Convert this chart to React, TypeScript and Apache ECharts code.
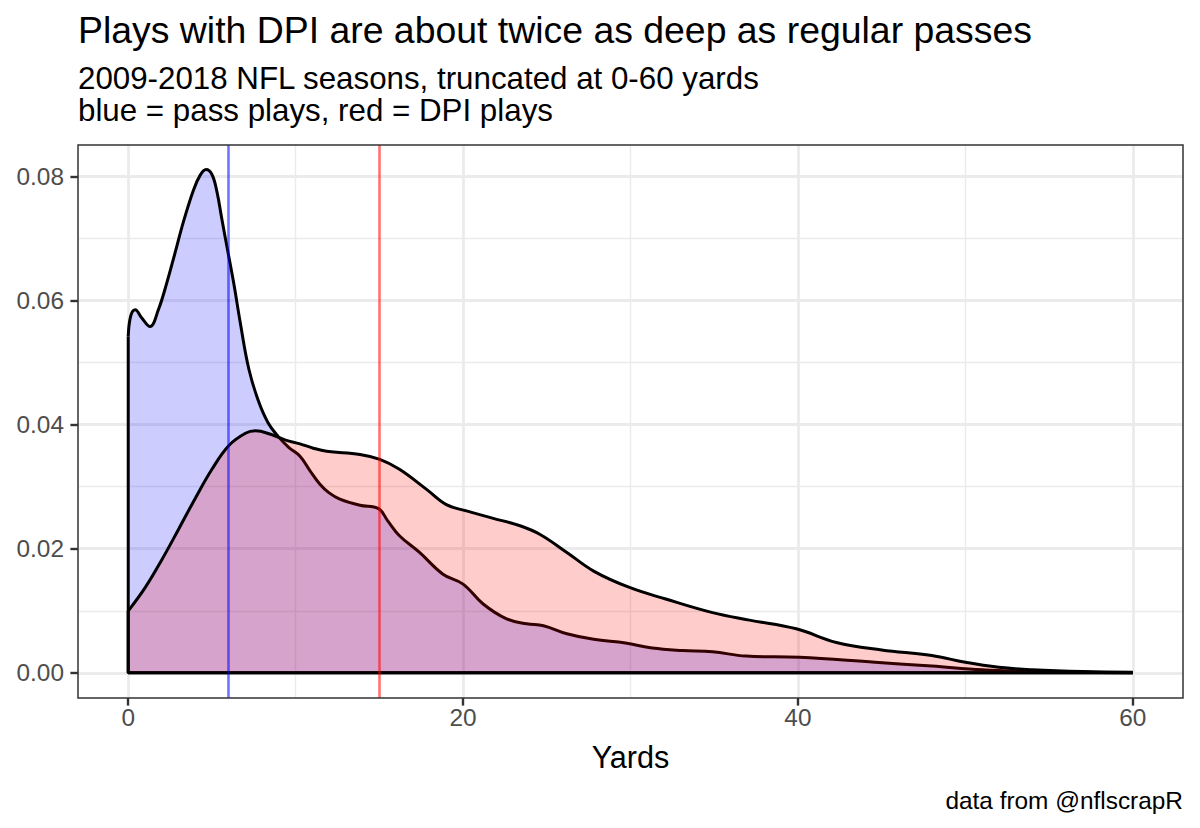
import React, { useEffect, useRef } from "react";
import * as echarts from "echarts";

// Density of air yards, pass plays (blue)
const passX = [0, 0.15, 0.42, 0.8, 1.3, 1.8, 2.3, 2.8, 3.3, 3.9, 4.3, 4.65, 5.0, 5.3, 5.6, 5.9, 6.3, 6.7, 7.2, 7.75, 8.35, 8.95, 9.6, 10.26, 10.85, 11.45, 12.0, 12.64, 13.84, 14.93, 15.5, 16.2, 17.4, 18.8, 20.0, 21.2, 22.6, 23.8, 24.8, 26.2, 27.8, 29.7, 31.3, 33.1, 34.9, 36.9, 40.1, 44.6, 48, 51, 54, 57, 60];
const passY = [0.0542, 0.0575, 0.0585, 0.0572, 0.0558, 0.0585, 0.0628, 0.0677, 0.0727, 0.0778, 0.0802, 0.0811, 0.0803, 0.0775, 0.073, 0.0686, 0.0628, 0.0563, 0.049, 0.044, 0.0403, 0.0381, 0.0363, 0.0349, 0.0326, 0.0304, 0.029, 0.028, 0.027, 0.0265, 0.0245, 0.0221, 0.0194, 0.0159, 0.0143, 0.0111, 0.0087, 0.0079, 0.0076, 0.0063, 0.0054, 0.0048, 0.004, 0.0036, 0.0034, 0.0027, 0.0025, 0.0017, 0.0011, 0.0005, 0.0002, 0.0001, 0.0];

// Density of air yards, DPI plays (red)
const dpiX = [0, 1, 2, 3, 4, 5, 6, 7, 7.6, 8.55, 9.4, 10.26, 11.05, 11.85, 13.84, 15.03, 16.2, 17.8, 19.0, 20.2, 21.8, 23.4, 24.6, 26.2, 27.8, 29.9, 32.1, 34.9, 37.1, 39.9, 42.3, 45, 48, 50, 52, 54, 57, 60];
const dpiY = [0.01, 0.0137, 0.0182, 0.0231, 0.0281, 0.0328, 0.0366, 0.0386, 0.039, 0.0384, 0.0375, 0.0369, 0.0362, 0.0357, 0.0352, 0.0344, 0.0328, 0.0296, 0.0271, 0.0261, 0.0249, 0.0237, 0.0223, 0.0194, 0.0164, 0.0138, 0.0119, 0.0097, 0.0085, 0.0071, 0.0049, 0.0037, 0.0028, 0.0017, 0.0009, 0.0005, 0.0002, 0.0001];

// Mean depth lines
const passMean = 6;
const dpiMean = 15;

// Axis ticks / grid
const xMajor = [0, 20, 40, 60];
const xMinor = [10, 30, 50];
const yMajor = [0, 0.02, 0.04, 0.06, 0.08];
const yMinor = [0.01, 0.03, 0.05, 0.07];

const titleText = "Plays with DPI are about twice as deep as regular passes";
const subtitle1 = "2009-2018 NFL seasons, truncated at 0-60 yards";
const subtitle2 = "blue = pass plays, red = DPI plays";
const captionText = "data from @nflscrapR";
const xTitle = "Yards";

const FONT = "'Liberation Sans', Arial, Helvetica, sans-serif";

export default function App() {
  const ref = useRef<HTMLDivElement>(null);

  useEffect(() => {
    if (!ref.current) return;
    const chart = echarts.init(ref.current, null, { renderer: "svg" });

    const passData = passX.map((x, i) => [x, passY[i]]);
    const dpiData = dpiX.map((x, i) => [x, dpiY[i]]);
    const passBase = [
      [passX[0], passY[0]],
      [passX[0], 0],
      [passX[passX.length - 1], 0],
    ];
    const dpiBase = [
      [dpiX[0], dpiY[0]],
      [dpiX[0], 0],
      [dpiX[dpiX.length - 1], 0],
    ];

    const gridLine = (arr: number[], key: string, width: number) =>
      arr.map((v) => ({ [key]: v, lineStyle: { color: "#ebebeb", width, type: "solid" } }));

    chart.setOption({
      animation: false,
      backgroundColor: "#ffffff",
      textStyle: { fontFamily: FONT },
      grid: {
        left: 78,
        top: 145,
        width: 1105,
        height: 553,
        show: true,
        borderColor: "#333333",
        borderWidth: 1.5,
        backgroundColor: "transparent",
        z: 20,
      },
      xAxis: {
        type: "value",
        min: -3,
        max: 63,
        axisLine: { show: false, onZero: false },
        splitLine: { show: false },
        axisTick: {
          show: true,
          customValues: xMajor,
          length: 7.6,
          lineStyle: { color: "#333333", width: 2.4 },
        },
        axisLabel: {
          customValues: xMajor,
          color: "#4d4d4d",
          fontSize: 24.4,
          fontFamily: FONT,
          margin: 7,
        },
        name: xTitle,
        nameLocation: "middle",
        nameGap: 43,
        nameTextStyle: { color: "#000000", fontSize: 30.6, fontFamily: FONT },
      },
      yAxis: {
        type: "value",
        min: -0.00405,
        max: 0.08505,
        axisLine: { show: false, onZero: false },
        splitLine: { show: false },
        axisTick: {
          show: true,
          customValues: yMajor,
          length: 7.6,
          lineStyle: { color: "#333333", width: 2.4 },
        },
        axisLabel: {
          customValues: yMajor,
          color: "#4d4d4d",
          fontSize: 24.4,
          fontFamily: FONT,
          margin: 14,
          formatter: (v: number) => v.toFixed(2),
        },
      },
      graphic: [
        {
          type: "text",
          x: 78,
          y: 30,
          style: {
            text: titleText,
            font: `37.4px ${FONT}`,
            fill: "#000000",
            textAlign: "left",
            textVerticalAlign: "middle",
          },
        },
        {
          type: "text",
          x: 78,
          y: 78,
          style: {
            text: subtitle1,
            font: `31.3px ${FONT}`,
            fill: "#000000",
            textAlign: "left",
            textVerticalAlign: "middle",
          },
        },
        {
          type: "text",
          x: 78,
          y: 110,
          style: {
            text: subtitle2,
            font: `31.3px ${FONT}`,
            fill: "#000000",
            textAlign: "left",
            textVerticalAlign: "middle",
          },
        },
        {
          type: "text",
          x: 1183,
          y: 800,
          style: {
            text: captionText,
            font: `24.4px ${FONT}`,
            fill: "#000000",
            textAlign: "right",
            textVerticalAlign: "middle",
          },
        },
      ],
      series: [
        {
          name: "grid",
          type: "line",
          data: [],
          silent: true,
          z: 0,
          markLine: {
            silent: true,
            z: 0,
            symbol: ["none", "none"],
            label: { show: false },
            emphasis: { disabled: true },
            data: [
              ...gridLine(xMinor, "xAxis", 1.4),
              ...gridLine(yMinor, "yAxis", 1.4),
              ...gridLine(xMajor, "xAxis", 2.8),
              ...gridLine(yMajor, "yAxis", 2.8),
            ],
          },
        },
        {
          name: "pass",
          type: "line",
          data: passData,
          z: 2,
          showSymbol: false,
          smooth: 0.4,
          lineStyle: { color: "#000000", width: 3 },
          itemStyle: { color: "#000000" },
          areaStyle: { color: "rgba(0,0,255,0.2)", opacity: 1, origin: 0 },
          silent: true,
        },
        {
          name: "passOutline",
          type: "line",
          data: passBase,
          z: 2,
          showSymbol: false,
          lineStyle: { color: "#000000", width: 3 },
          silent: true,
        },
        {
          name: "dpi",
          type: "line",
          data: dpiData,
          z: 3,
          showSymbol: false,
          smooth: 0.4,
          lineStyle: { color: "#000000", width: 3 },
          itemStyle: { color: "#000000" },
          areaStyle: { color: "rgba(255,0,0,0.2)", opacity: 1, origin: 0 },
          silent: true,
        },
        {
          name: "dpiOutline",
          type: "line",
          data: dpiBase,
          z: 3,
          showSymbol: false,
          lineStyle: { color: "#000000", width: 3 },
          silent: true,
        },
        {
          name: "means",
          type: "line",
          data: [],
          z: 10,
          silent: true,
          markLine: {
            silent: true,
            z: 10,
            symbol: ["none", "none"],
            label: { show: false },
            emphasis: { disabled: true },
            data: [
              { xAxis: passMean, lineStyle: { color: "rgba(0,0,255,0.55)", width: 2.6, type: "solid" } },
              { xAxis: dpiMean, lineStyle: { color: "rgba(255,0,0,0.55)", width: 2.6, type: "solid" } },
            ],
          },
        },
      ],
    });

    return () => chart.dispose();
  }, []);

  return (
    <div
      ref={ref}
      style={{ position: "fixed", left: 0, top: 0, width: 1200, height: 828, background: "#fff" }}
    />
  );
}
